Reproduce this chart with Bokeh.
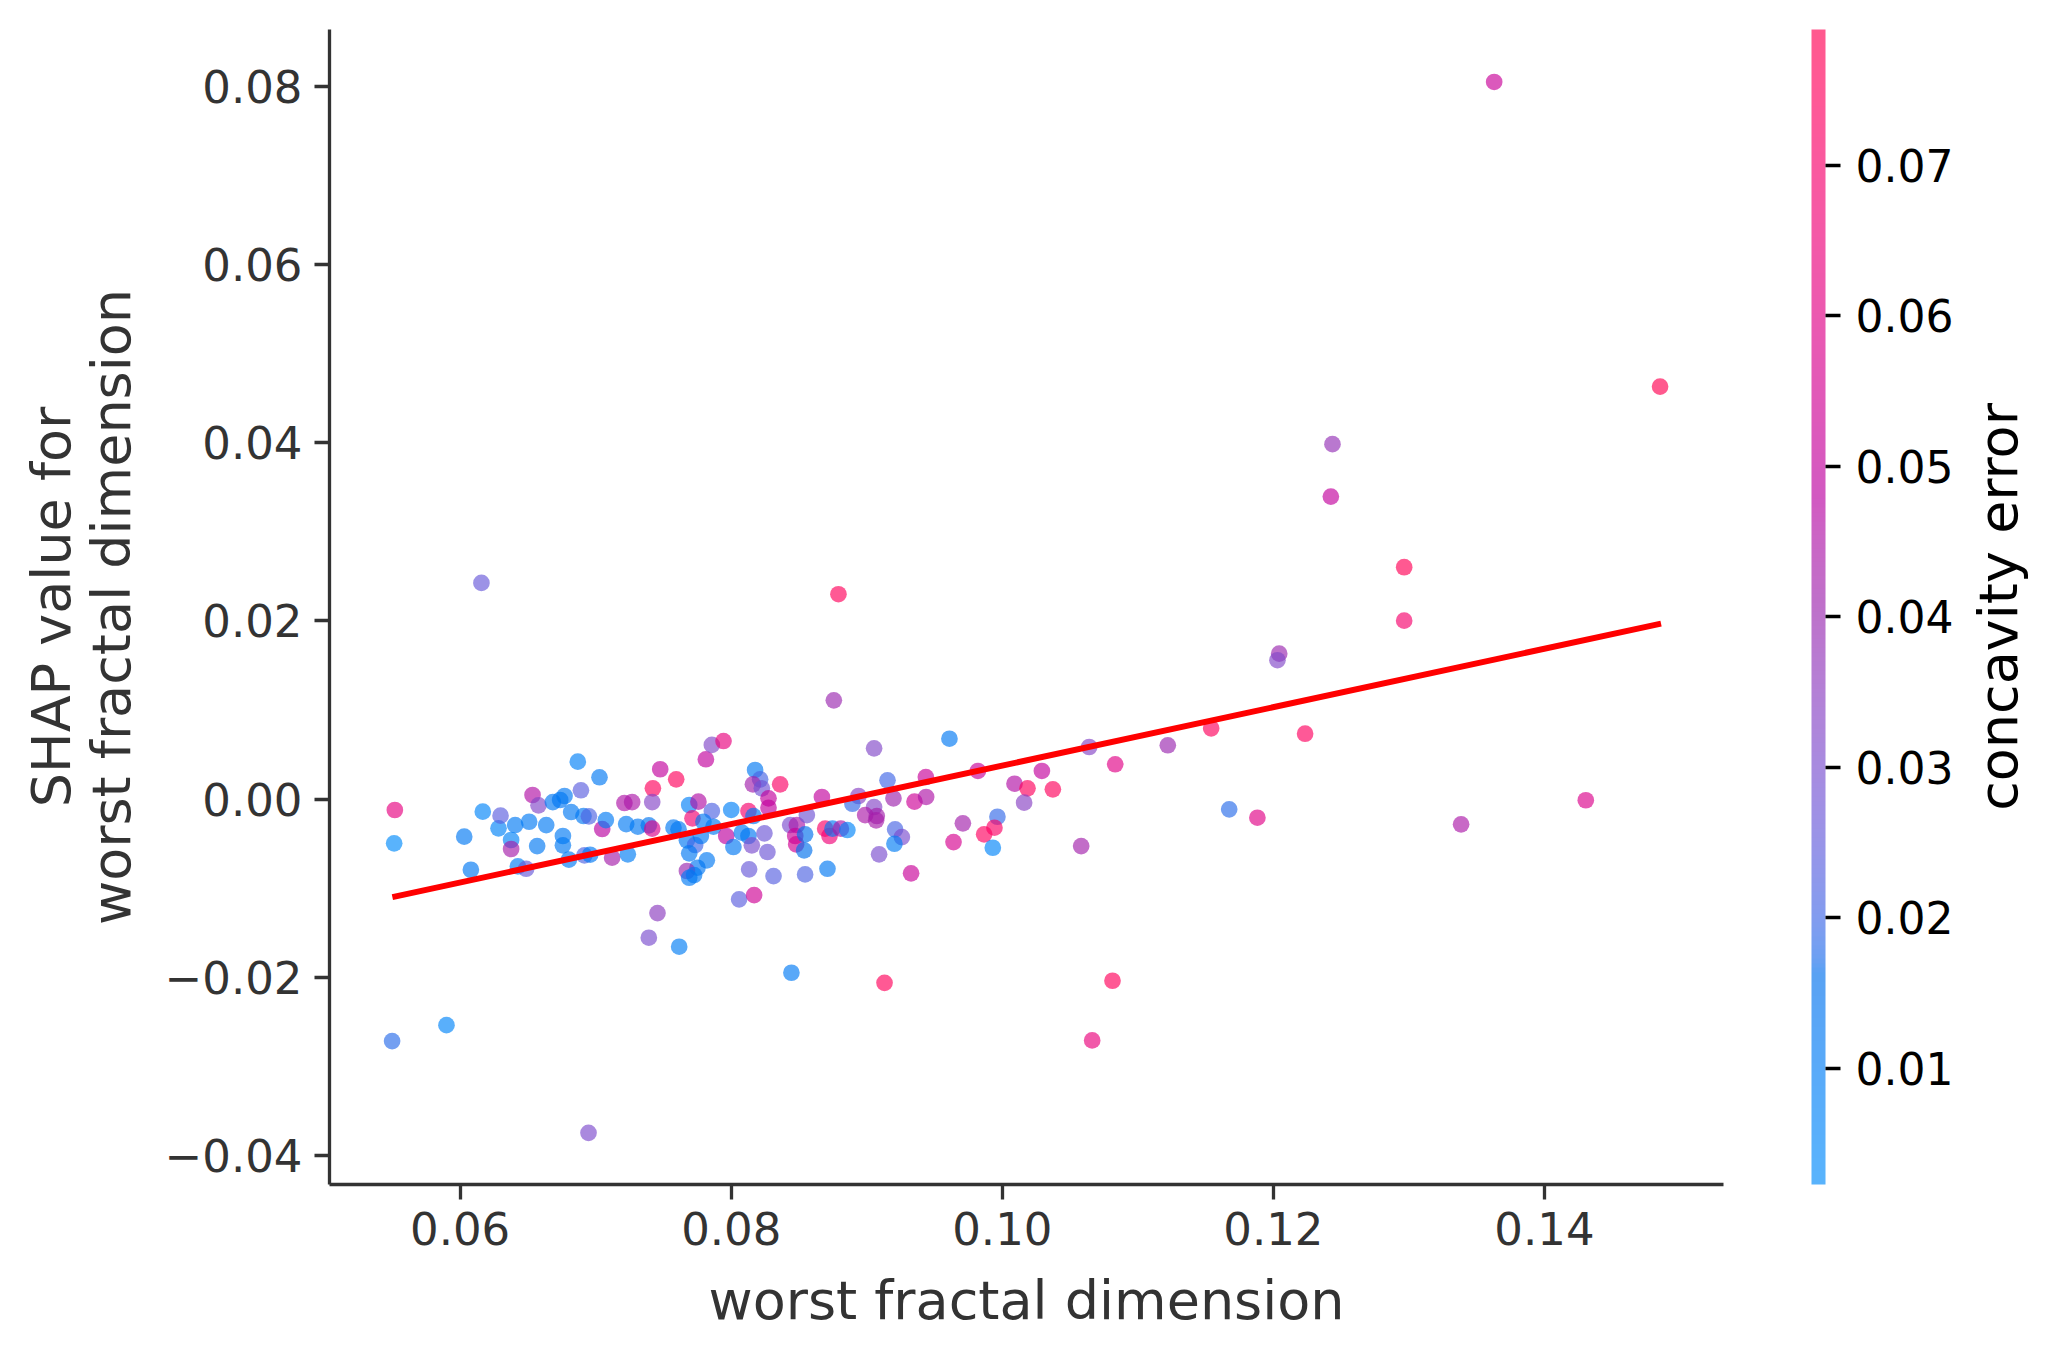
import numpy as np
from bokeh.plotting import figure
from bokeh.layouts import row
from bokeh.models import (Range1d, LinearColorMapper, ColorBar, FixedTicker,
                          CustomJSTickFormatter, ColumnDataSource)
from bokeh.embed import file_html
from bokeh.resources import INLINE

# ---------------- data ----------------
worst_fractal_dimension = [
    0.05518, 0.05513, 0.06030, 0.06079, 0.06167, 0.06283, 0.06298, 0.06376, 0.06376, 0.06406,
    0.06426, 0.06487, 0.06509, 0.06534, 0.06578, 0.06568, 0.06635, 0.06684, 0.06738, 0.06770,
    0.06758, 0.06758, 0.06802, 0.06819, 0.06868, 0.06891, 0.06910, 0.06950, 0.06917, 0.06959,
    0.07028, 0.07048, 0.07075, 0.07121, 0.07212, 0.07269, 0.07225, 0.07237, 0.07311, 0.07422,
    0.07417, 0.07476, 0.07392, 0.07417, 0.07456, 0.07392, 0.07616, 0.07594, 0.07574, 0.07690,
    0.07758, 0.07714, 0.07611, 0.07673, 0.07734, 0.07690, 0.07776, 0.07820, 0.07751, 0.07673,
    0.07690, 0.07726, 0.07813, 0.07857, 0.07943, 0.07857, 0.07795, 0.07869, 0.08000, 0.07963,
    0.08016, 0.08127, 0.08164, 0.08176, 0.08213, 0.08160, 0.08226, 0.08275, 0.08275, 0.08361,
    0.08078, 0.08127, 0.08245, 0.08152, 0.08267, 0.08132, 0.08312, 0.08058, 0.08169, 0.08435,
    0.08484, 0.08472, 0.08479,
    0.08757, 0.09054, 0.09610, 0.08669, 0.08939, 0.08894, 0.09054, 0.09153, 0.09197, 0.08988,
    0.09074, 0.09069, 0.08558, 0.08545, 0.08693, 0.08725, 0.08747, 0.08809, 0.08857, 0.08538,
    0.08545, 0.08710, 0.09091, 0.09209, 0.09259, 0.09204, 0.09327, 0.09352, 0.09438, 0.09436,
    0.09820, 0.09709, 0.09640, 0.09964, 0.09942, 0.09866, 0.09930, 0.10090, 0.10186, 0.10161,
    0.10292, 0.10373, 0.10582, 0.10641, 0.10833, 0.11221, 0.11541, 0.11674, 0.11882,
    0.06157, 0.08791, 0.12043, 0.12030, 0.08444, 0.05498, 0.05899, 0.06947, 0.09131, 0.10813,
    0.10663, 0.14853, 0.12436, 0.12424, 0.12965, 0.12965, 0.12234, 0.13385, 0.14305, 0.13629,
]
shap_value = [
    -0.00122, -0.00496, -0.00422, -0.00793, -0.00141, -0.00328, -0.00186, -0.00459, -0.00560, -0.00291,
    -0.00755, -0.00782, -0.00254, 0.00046, -0.00070, -0.00527, -0.00291, -0.00033, -0.00010, 0.00035,
    -0.00414, -0.00519, -0.00680, -0.00145, 0.00420, 0.00099, -0.00190, -0.00193, -0.00631, -0.00624,
    0.00245, -0.00336, -0.00235, -0.00658, -0.00044, -0.00033, -0.00280, -0.00620, -0.00310, 0.00121,
    -0.00033, 0.00335, -0.00294, -0.00332, -0.01279, -0.01556, -0.01657, 0.00222, -0.00321, -0.00066,
    -0.00029, -0.00216, -0.00339, -0.00463, -0.00515, -0.00609, -0.00414, -0.00687, -0.00770, -0.00807,
    -0.00883, -0.00852, 0.00447, 0.00608, 0.00652, -0.00134, -0.00254, -0.00310, -0.00122, -0.00414,
    -0.00538, -0.00134, -0.00190, 0.00327, 0.00222, 0.00166, 0.00121, 0.00009, -0.00097, 0.00166,
    -0.00377, -0.00414, -0.00384, -0.00519, -0.00594, -0.00788, -0.00864, -0.01125, -0.01077, -0.00291,
    -0.00291, -0.00414, -0.00508,
    0.01109, 0.00570, 0.00678, 0.00024, 0.00035, -0.00052, -0.00089, 0.00211, 0.00009, -0.00179,
    -0.00190, -0.00238, -0.00179, -0.00395, -0.00332, -0.00414, -0.00332, -0.00332, -0.00347, -0.00575,
    -0.00845, -0.00782, -0.00620, -0.00339, -0.00426, -0.00501, -0.00833, -0.00029, 0.00024, 0.00248,
    0.00316, -0.00272, -0.00482, -0.00198, -0.00321, -0.00395, -0.00546, 0.00173, 0.00121, -0.00040,
    0.00316, 0.00110, -0.00527, 0.00585, 0.00391, 0.00604, 0.00795, -0.00115, -0.00209,
    0.02427, 0.02300, 0.01633, 0.01559, -0.01949, -0.02716, -0.02537, -0.03746, -0.02062, -0.02039,
    -0.02709, 0.04631, 0.03984, 0.03396, 0.02603, 0.02003, 0.00734, -0.00283, -0.00013, 0.08050,
]
concavity_error = [
    0.062, 0.0023, 0.012, 0.012, 0.006, 0.007, 0.024, 0.007, 0.043, 0.011,
    0.008, 0.026, 0.011, 0.046, 0.032, 0.012, 0.011, 0.012, 0.013, 0.012,
    0.011, 0.012, 0.011, 0.012, 0.008, 0.024, 0.012, 0.022, 0.022, 0.012,
    0.012, 0.048, 0.011, 0.043, 0.045, 0.044, 0.011, 0.010, 0.012, 0.075,
    0.033, 0.050, 0.014, 0.058, 0.035, 0.030, 0.010, 0.075, 0.012, 0.008,
    0.046, 0.068, 0.012, 0.012, 0.020, 0.012, 0.012, 0.012, 0.013, 0.040,
    0.011, 0.012, 0.050, 0.032, 0.063, 0.022, 0.012, 0.012, 0.008, 0.049,
    0.012, 0.070, 0.012, 0.012, 0.021, 0.042, 0.028, 0.050, 0.050, 0.072,
    0.012, 0.012, 0.027, 0.030, 0.027, 0.026, 0.023, 0.024, 0.054, 0.030,
    0.044, 0.052, 0.055,
    0.040, 0.032, 0.012, 0.050, 0.034, 0.019, 0.033, 0.020, 0.041, 0.044,
    0.042, 0.043, 0.028, 0.016, 0.072, 0.066, 0.012, 0.045, 0.006, 0.016,
    0.022, 0.012, 0.030, 0.021, 0.030, 0.010, 0.052, 0.053, 0.045, 0.052,
    0.052, 0.042, 0.056, 0.019, 0.072, 0.074, 0.006, 0.046, 0.075, 0.034,
    0.050, 0.075, 0.042, 0.033, 0.060, 0.040, 0.075, 0.018, 0.060,
    0.026, 0.076, 0.040, 0.032, 0.011, 0.018, 0.006, 0.031, 0.076, 0.076,
    0.064, 0.0790, 0.038, 0.050, 0.077, 0.070, 0.074, 0.044, 0.058, 0.052,
]
trend_x = [0.0550, 0.1486]
trend_y = [-0.0110, 0.0197]

x_ticks = [0.06, 0.08, 0.10, 0.12, 0.14]
y_ticks = [-0.04, -0.02, 0.00, 0.02, 0.04, 0.06, 0.08]
cbar_ticks = [0.01, 0.02, 0.03, 0.04, 0.05, 0.06, 0.07]

x_label = "worst fractal dimension"
y_label = "SHAP value for\nworst fractal dimension"
c_label = "concavity error"

# ---------------- SHAP red_blue colormap (LCH interpolation) ----------------
def lch2rgb(l, c, h):
    a = c * np.cos(h)
    b = c * np.sin(h)
    fy = (l + 16.0) / 116.0
    fx = a / 500.0 + fy
    fz = fy - b / 200.0
    f = np.array([fx, fy, fz])
    f = np.where(f > 0.2068966, f ** 3, (f - 16.0 / 116.0) / 7.787)
    xyz = f * np.array([0.95047, 1.0, 1.08883])[:, None]
    m = np.array([[3.24048134, -1.53715152, -0.49853633],
                  [-0.96925495, 1.87599, 0.04155593],
                  [0.05564664, -0.20404134, 1.05731107]])
    rgb = m @ xyz
    rgb = np.where(rgb > 0.0031308, 1.055 * np.power(np.clip(rgb, 0, None), 1 / 2.4) - 0.055, 12.92 * rgb)
    return np.clip(rgb, 0, 1)

nsteps = 100
l_vals = np.concatenate([np.linspace(54.0, 40.0, nsteps // 2), np.linspace(40.0, 54.0, nsteps // 2)])
c_vals = np.linspace(70.0, 90.0, nsteps)
h_vals = np.linspace(4.6588, 0.35470565 + 2 * np.pi, nsteps)
base = lch2rgb(l_vals, c_vals, h_vals)  # 3 x nsteps
pos = np.linspace(0, 1, nsteps)
pp = np.linspace(0, 1, 256)
rgb256 = np.array([np.interp(pp, pos, base[i]) for i in range(3)]).T

ALPHA = 0.65
def to_hex(rgb):
    r, g, b = (np.round(np.clip(rgb, 0, 1) * 255)).astype(int)
    return "#%02x%02x%02x" % (r, g, b)

palette = [to_hex(c) for c in rgb256]
palette_blend = [to_hex(ALPHA * c + (1 - ALPHA)) for c in rgb256]

cmin, cmax = min(concavity_error), max(concavity_error)
mapper = LinearColorMapper(palette=palette, low=cmin, high=cmax)
mapper_bar = LinearColorMapper(palette=palette_blend, low=cmin, high=cmax)

# ---------------- main figure ----------------
FONT = "DejaVu Sans"
FW, FH = 1394, 1155
TOP, BOTTOM = 29, 150
p = figure(frame_width=FW, frame_height=FH,
           x_range=Range1d(0.05036, 0.15321), y_range=Range1d(-0.04326, 0.08639),
           output_backend="svg", toolbar_location=None,
           min_border_left=329, min_border_top=TOP, min_border_right=88,
           min_border_bottom=BOTTOM)
p.outline_line_color = None
p.grid.visible = False
p.background_fill_color = "white"
p.border_fill_color = "white"

src = ColumnDataSource(dict(x=worst_fractal_dimension, y=shap_value, c=concavity_error))
p.scatter("x", "y", source=src, size=16.7, line_color=None,
          fill_color={"field": "c", "transform": mapper}, fill_alpha=ALPHA)
p.line(trend_x, trend_y, line_color="#ff0000", line_width=6)

fmt = CustomJSTickFormatter(code="return tick.toFixed(2).replace('-', '\\u2212');")
p.xaxis.ticker = FixedTicker(ticks=x_ticks)
p.yaxis.ticker = FixedTicker(ticks=y_ticks)
p.xaxis.formatter = fmt
p.yaxis.formatter = fmt
p.xaxis.axis_label = x_label
p.yaxis.axis_label = y_label

for ax in (p.xaxis[0], p.yaxis[0]):
    ax.axis_line_color = "#333333"
    ax.axis_line_width = 3.3
    ax.major_tick_line_color = "#333333"
    ax.major_tick_line_width = 3.3
    ax.major_tick_out = 15
    ax.major_tick_in = 0
    ax.minor_tick_line_color = None
    ax.major_label_text_font = FONT
    ax.major_label_text_font_size = "45px"
    ax.major_label_text_color = "#333333"
    ax.axis_label_text_font = FONT
    ax.axis_label_text_font_size = "54px"
    ax.axis_label_text_font_style = "normal"
    ax.axis_label_text_color = "#333333"
    ax.axis_label_text_line_height = 0.95

p.xaxis.major_label_standoff = 12
p.xaxis.axis_label_standoff = 21
p.yaxis.major_label_standoff = 12
p.yaxis.axis_label_standoff = 19

# ---------------- colour bar panel ----------------
CW = 229
pc = figure(frame_width=CW, frame_height=FH, x_range=Range1d(0, 1), y_range=Range1d(0, 1),
            output_backend="svg", toolbar_location=None,
            x_axis_location=None, y_axis_location=None,
            min_border_left=0, min_border_right=0, min_border_top=TOP,
            min_border_bottom=BOTTOM)
pc.outline_line_color = None
pc.grid.visible = False
pc.background_fill_color = "white"
pc.border_fill_color = "white"

cbar = ColorBar(color_mapper=mapper_bar, location=(0, 0), width=14, height=FH,
                padding=0, margin=0, bar_line_color=None,
                ticker=FixedTicker(ticks=cbar_ticks), formatter=fmt,
                major_tick_out=15, major_tick_in=0,
                major_tick_line_color="#000000", major_tick_line_width=3.3,
                minor_tick_line_color=None,
                major_label_text_font=FONT, major_label_text_font_size="44px",
                major_label_text_color="#000000", label_standoff=15,
                background_fill_color=None, border_line_color=None)
pc.add_layout(cbar, "center")

pc.text(x=[0.8166], y=[0.5], text=[c_label], angle=np.pi / 2,
        text_align="center", text_baseline="middle",
        text_font={"value": FONT}, text_font_size={"value": "54px"}, text_color="#000000")

layout = row(p, pc)
open("out.html", "w").write(file_html(layout, INLINE))
